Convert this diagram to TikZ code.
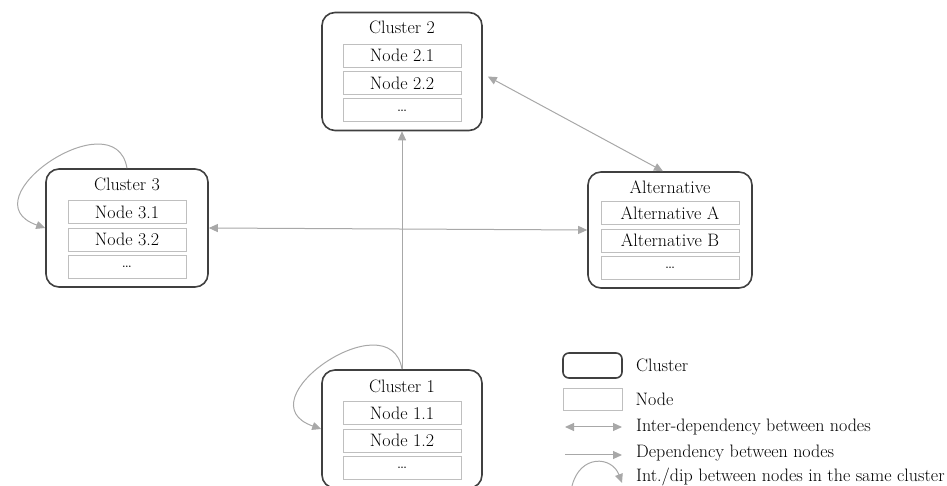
\documentclass[tikz,border=0pt]{standalone}
\usepackage{tikz}
\usetikzlibrary{arrows.meta, positioning}
\definecolor{clusterline}{HTML}{404040}
\definecolor{nodeline}{HTML}{BFBFBF}
\definecolor{linkline}{HTML}{A8A8A8}
\tikzset{
  every node/.style={font=\fontsize{18}{21}\selectfont},
  cluster/.style={draw=clusterline, line width=1.6pt, rounded corners=13pt,
    minimum width=160pt, minimum height=118pt, inner sep=0pt},
  item/.style={draw=nodeline, line width=0.9pt, minimum width=118pt,
    minimum height=23pt, inner sep=0pt},
  wide item/.style={item, minimum width=138pt},
  title/.style={inner sep=0pt},
  legend text/.style={anchor=west, inner sep=0pt},
  >={Triangle[length=9pt,width=8pt]},
  link/.style={draw=linkline, line width=1pt, ->},
  inter/.style={link, <->}
}

\begin{document}
\begin{tikzpicture}[x=1pt, y=1pt]
\useasboundingbox (0,0) rectangle (947,486);

\node[cluster] (c2) at (402,414.5) {};
\node[title] (c2t) at ([yshift=-16pt]c2.north) {Cluster 2};
\node[item, below=32pt of c2.north] (c21) {Node 2.1};
\node[item, below=3.5pt of c21] (c22) {Node 2.2};
\node[item, below=3.5pt of c22] (c23) {\dots};

\node[cluster, minimum width=162pt] (c3) at (127,258) {};
\node[title] (c3t) at ([yshift=-16pt]c3.north) {Cluster 3};
\node[item, below=32pt of c3.north] (c31) {Node 3.1};
\node[item, below=3.5pt of c31] (c32) {Node 3.2};
\node[item, below=3.5pt of c32] (c33) {\dots};

\node[cluster, minimum width=164pt, minimum height=116pt] (alt) at (670,256) {};
\node[title] (altt) at ([yshift=-16pt]alt.north) {Alternative};
\node[wide item, below=30pt of alt.north] (alta) {Alternative A};
\node[wide item, below=3.5pt of alta] (altb) {Alternative B};
\node[wide item, below=3.5pt of altb] (altc) {\dots};

\node[cluster] (c1) at (402,57) {};
\node[title] (c1t) at ([yshift=-17pt]c1.north) {Cluster 1};
\node[item, below=32pt of c1.north] (c11) {Node 1.1};
\node[item, below=3.5pt of c11] (c12) {Node 1.2};
\node[item, below=3.5pt of c12] (c13) {\dots};

\draw[link] (c1.north) -- (c2.south);
\draw[inter] (c3.east) -- (alt.west);
\draw[inter] ([xshift=-7pt]alt.north) -- ([shift={(5,-5)}]c2.east);
\draw[link] (c1.north) .. controls +(-12,70) and +(-80,28) .. (c1.west);
\draw[link] (c3.north) .. controls +(-12,70) and +(-80,28) .. (c3.west);

\node[cluster, minimum width=59pt, minimum height=25pt, rounded corners=6pt] (lc) at (592.5,120.5) {};
\node[legend text, right=13pt of lc] (lct) {Cluster};
\node[item, minimum width=59pt, minimum height=22pt] (ln) at (592.5,87) {};
\node[legend text, right=13pt of ln] (lnt) {Node};
\coordinate (li1) at (565,59);
\coordinate (li2) at (622,59);
\draw[inter] (li1) -- (li2);
\node[legend text, right=14pt of li2] (lit) {Inter-dependency between nodes};
\coordinate (ld1) at (565,31);
\coordinate (ld2) at (622,31);
\draw[link] (ld1) -- (ld2);
\node[legend text] (ldt) at (636,33) {Dependency between nodes};
\coordinate (ll1) at (572,0);
\coordinate (ll2) at (622,3);
\draw[link] (ll1) .. controls +(8,32) and +(-10,27) .. (ll2);
\node[legend text] (llt) at (636,9) {Int./dip between nodes in the same cluster};
\end{tikzpicture}
\end{document}
